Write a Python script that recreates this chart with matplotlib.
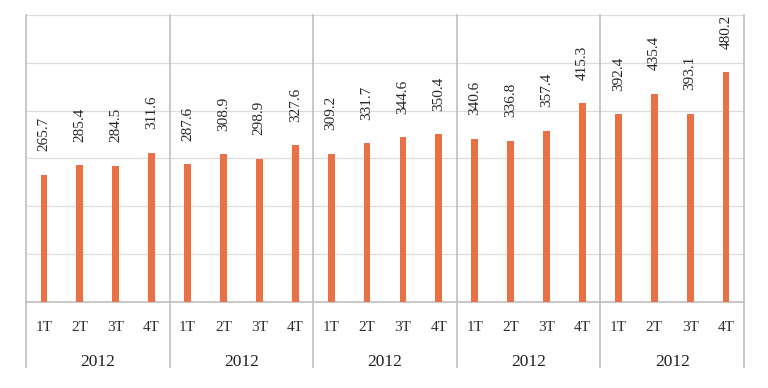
import matplotlib
matplotlib.use("Agg")
import matplotlib.pyplot as plt

quarters = ["1T", "2T", "3T", "4T"]
years = ["2012", "2012", "2012", "2012", "2012"]
values = [265.7, 285.4, 284.5, 311.6,
          287.6, 308.9, 298.9, 327.6,
          309.2, 331.7, 344.6, 350.4,
          340.6, 336.8, 357.4, 415.3,
          392.4, 435.4, 393.1, 480.2]

plt.rcParams['font.family'] = ['Liberation Serif', 'DejaVu Serif']

W, H = 768, 388
fig = plt.figure(figsize=(W / 100, H / 100), dpi=100)
ax = fig.add_axes([26 / W, (H - 302) / H, (744 - 26) / W, (302 - 15) / H])

n = len(values)
xs = list(range(n))
bar_color = '#EA7046'
ax.bar(xs, values, width=0.19, color=bar_color, zorder=3)

for x, v in zip(xs, values):
    ax.annotate(f"{v:.1f}", (x, v), xytext=(0, 17), textcoords='offset points',
                rotation=90, ha='center', va='bottom', fontsize=11, color='#262626')

ax.set_xlim(-0.5, n - 0.5)
ax.set_ylim(0, 600)
ax.set_yticks(range(0, 601, 100))
ax.yaxis.grid(True, color='#DCDCDC', linewidth=0.9, zorder=0)
ax.tick_params(axis='y', left=False, labelleft=False)

ax.set_xticks(xs)
ax.set_xticklabels(quarters * len(years), fontsize=11, color='#333333')
ax.tick_params(axis='x', length=0, pad=14)

for s in ['top', 'left', 'right']:
    ax.spines[s].set_visible(False)
ax.spines['bottom'].set_color('#BFBFBF')
ax.spines['bottom'].set_linewidth(1.2)

trans = ax.get_xaxis_transform()
low = -(367 - 302) / (302 - 15)
for g in range(len(years) + 1):
    xb = g * 4 - 0.5
    ax.plot([xb, xb], [low, 1], transform=trans, color='#BFBFBF', linewidth=1.2,
            clip_on=False, zorder=4)

ycen = -(362 - 302) / (302 - 15)
for g, yr in enumerate(years):
    ax.text(g * 4 + 1.5, ycen, yr, transform=trans, ha='center', va='center',
            fontsize=12.5, color='#222222')

fig.savefig("out.png", dpi=100)
